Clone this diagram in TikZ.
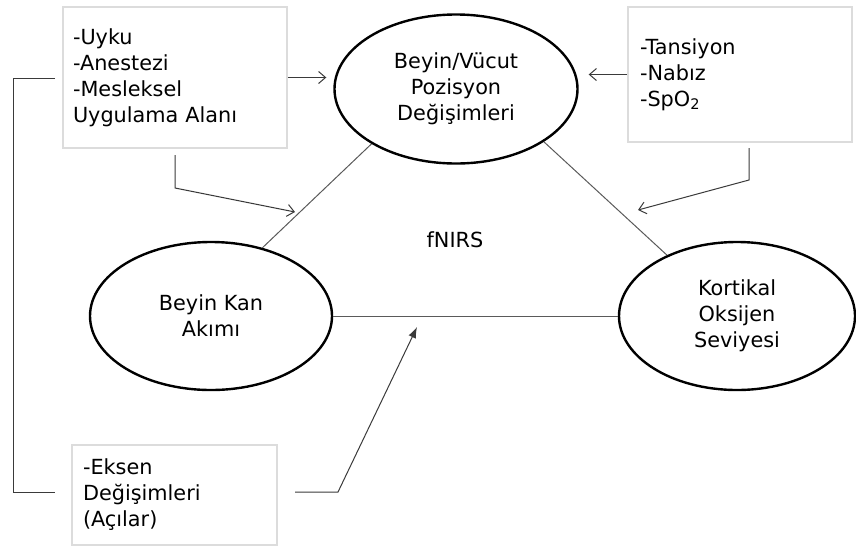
\documentclass[tikz,border=0pt]{standalone}
\usepackage{fontspec}
\setmainfont{DejaVu Sans}
\usetikzlibrary{shapes.geometric,arrows.meta}
\definecolor{boxgray}{HTML}{DCDCDC}
\definecolor{conngray}{HTML}{3A3A3A}
\definecolor{trigray}{HTML}{5A5A5A}
\tikzset{
  every node/.style={font=\fontsize{20.8}{26}\selectfont},
  ell/.style={ellipse, draw=black, line width=2.4pt, minimum width=242pt, minimum height=148pt, inner sep=0pt, align=center},
  infobox/.style={draw=boxgray, line width=1.6pt, align=left, inner ysep=0pt},
  conn/.style={draw=conngray, line width=1pt},
  triline/.style={draw=trigray, line width=1pt},
  openarrow/.style={-{Straight Barb[length=7pt,width=12pt,line width=1pt]}},
  solidarrow/.style={-{Latex[length=11pt,width=8pt]}},
}
\begin{document}
\begin{tikzpicture}[x=1pt,y=-1pt]
\useasboundingbox (0,0) rectangle (856,547);
% ellipses
\node[ell, minimum width=243pt, minimum height=149pt] (top) at (456,89) {Beyin/Vücut\\Pozisyon\\Değişimleri};
\node[ell] (left) at (211,316) {Beyin Kan\\Akımı};
\node[ell, minimum width=236pt] (right) at (737,316) {Kortikal\\Oksijen\\Seviyesi};
\node (fn) at (455,240) {fNIRS};
% boxes
\node[infobox, text width=204pt, inner xsep=10pt, minimum height=141pt] (tl) at (175,77.5) {-Uyku\\-Anestezi\\-Mesleksel\\Uygulama Alanı};
\node[infobox, text width=200pt, inner xsep=12pt, minimum height=135pt] (tr) at (740,74.5) {-Tansiyon\\-Nabız\\-SpO\textsubscript{2}};
\node[infobox, text width=183pt, inner xsep=11pt, minimum height=100pt] (bx) at (174.5,495) {-Eksen\\Değişimleri\\(Açılar)};
% triangle
\draw[triline] (top.213) -- (left.53);
\draw[triline] (top.329) -- (right.139);
\draw[triline] (left.east) -- (left.east -| right.west);
% arrows into top ellipse
\draw[conn, openarrow, shorten >=7pt] (tl.east) -- (tl.east -| top.west);
\draw[conn, openarrow, shorten >=10pt] (tr.west) -- (tr.west -| top.east);
% bent arrows
\coordinate (a3s) at (175,155);
\coordinate (a3k) at (175,188);
\coordinate (a3e) at (295,212);
\draw[conn, openarrow] (a3s) -- (a3k) -- (a3e);
\coordinate (a4s) at (749,148);
\coordinate (a4k) at (749,180);
\coordinate (a4e) at (638,210);
\draw[conn, openarrow] (a4s) -- (a4k) -- (a4e);
\coordinate (a5s) at (295,492);
\coordinate (a5k) at (338,492);
\coordinate (a5e) at (417,327);
\draw[conn, solidarrow] (a5s) -- (a5k) -- (a5e);
% bracket
\coordinate (b1) at (55,78);
\coordinate (b2) at (13,78);
\coordinate (b3) at (13,492);
\coordinate (b4) at (55,492);
\draw[conn] (b1) -- (b2) -- (b3) -- (b4);
\end{tikzpicture}
\end{document}
